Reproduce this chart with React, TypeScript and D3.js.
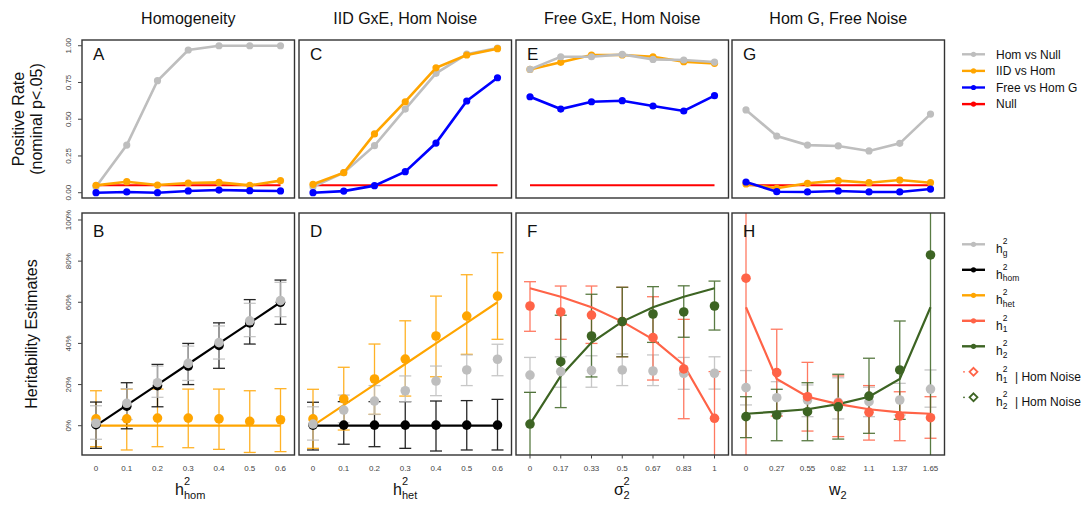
import React from "react";
import * as d3 from "d3";

// ---------- data ----------
const xHom = ["0", "0.1", "0.2", "0.3", "0.4", "0.5", "0.6"];
const xHet = ["0", "0.1", "0.2", "0.3", "0.4", "0.5", "0.6"];
const xSigma = ["0", "0.17", "0.33", "0.5", "0.67", "0.83", "1"];
const xW = ["0", "0.27", "0.55", "0.82", "1.1", "1.37", "1.65"];

const nullRate = 0.05;

// Positive rates (top row)
const homVsNullA = [0.04, 0.324, 0.762, 0.971, 1.0, 1.0, 1.0];
const iidVsHomA = [0.05, 0.075, 0.052, 0.066, 0.07, 0.05, 0.082];
const freeVsHomA = [0.0, 0.005, 0.0, 0.012, 0.018, 0.014, 0.012];

const homVsNullC = [0.04, 0.136, 0.32, 0.569, 0.812, 0.943, 0.984];
const iidVsHomC = [0.057, 0.136, 0.4, 0.619, 0.85, 0.937, 0.98];
const freeVsHomC = [0.0, 0.011, 0.048, 0.143, 0.338, 0.624, 0.782];

const homVsNullE = [0.839, 0.925, 0.925, 0.941, 0.907, 0.903, 0.889];
const iidVsHomE = [0.839, 0.887, 0.937, 0.937, 0.925, 0.891, 0.88];
const freeVsHomE = [0.653, 0.569, 0.619, 0.626, 0.59, 0.556, 0.66];

const homVsNullG = [0.563, 0.386, 0.324, 0.318, 0.284, 0.336, 0.535];
const iidVsHomG = [0.06, 0.03, 0.064, 0.082, 0.068, 0.086, 0.068];
const freeVsHomG = [0.073, 0.007, 0.005, 0.012, 0.005, 0.005, 0.025];

// Heritability estimates (bottom row): mean, lower, upper
const hgB = [0.012, 0.109, 0.209, 0.303, 0.404, 0.51, 0.608];
const hgBLo = [-0.066, 0.03, 0.138, 0.22, 0.324, 0.433, 0.53];
const hgBHi = [0.097, 0.18, 0.29, 0.387, 0.485, 0.595, 0.697];
const homB = [0.005, 0.095, 0.195, 0.29, 0.39, 0.5, 0.6];
const homBLo = [-0.11, -0.015, 0.092, 0.2, 0.279, 0.397, 0.493];
const homBHi = [0.115, 0.209, 0.298, 0.4, 0.5, 0.613, 0.708];
const hetB = [0.033, 0.033, 0.037, 0.037, 0.033, 0.021, 0.029];
const hetBLo = [-0.102, -0.118, -0.102, -0.107, -0.115, -0.13, -0.126];
const hetBHi = [0.17, 0.178, 0.178, 0.178, 0.178, 0.17, 0.18];
const trueHomB = [0, 0.1, 0.2, 0.3, 0.4, 0.5, 0.6];
const trueHetB = [0, 0, 0, 0, 0, 0, 0];

const hetD = [0.033, 0.13, 0.227, 0.324, 0.436, 0.533, 0.63];
const hetDLo = [-0.11, -0.021, 0.055, 0.144, 0.238, 0.347, 0.42];
const hetDHi = [0.177, 0.284, 0.397, 0.51, 0.63, 0.734, 0.841];
const hgD = [0.008, 0.076, 0.12, 0.17, 0.217, 0.271, 0.323];
const hgDLo = [-0.07, 0.015, 0.055, 0.117, 0.146, 0.195, 0.243];
const hgDHi = [0.092, 0.149, 0.195, 0.242, 0.29, 0.344, 0.396];
const homD = [0.003, 0.003, 0.003, 0.003, 0.003, 0.003, 0.003];
const homDLo = [-0.118, -0.09, -0.102, -0.11, -0.123, -0.118, -0.118];
const homDHi = [0.114, 0.117, 0.117, 0.117, 0.12, 0.122, 0.128];
const trueHetD = [0, 0.1, 0.2, 0.3, 0.4, 0.5, 0.6];
const trueHomD = [0, 0, 0, 0, 0, 0, 0];

const h1F = [0.582, 0.553, 0.538, 0.506, 0.428, 0.276, 0.036];
const h1FLo = [0.459, 0.42, 0.4, 0.335, 0.222, 0.034, -0.3];
const h1FHi = [0.7, 0.679, 0.679, 0.673, 0.627, 0.517, 0.263];
const h2F = [0.008, 0.311, 0.436, 0.506, 0.543, 0.553, 0.582];
const h2FLo = [-0.3, 0.088, 0.237, 0.335, 0.405, 0.43, 0.465];
const h2FHi = [0.162, 0.537, 0.639, 0.673, 0.676, 0.68, 0.703];
const hgF = [0.246, 0.263, 0.268, 0.271, 0.266, 0.255, 0.255];
const hgFLo = [0.162, 0.187, 0.187, 0.195, 0.195, 0.177, 0.178];
const hgFHi = [0.332, 0.335, 0.34, 0.349, 0.344, 0.332, 0.335];
const trueH1F = [0.668, 0.627, 0.576, 0.506, 0.42, 0.295, 0.036];
const trueH2F = [0.008, 0.242, 0.404, 0.506, 0.576, 0.627, 0.668];

const h1H = [0.717, 0.258, 0.141, 0.11, 0.065, 0.047, 0.039];
const h1HLo = [-0.5, 0.047, -0.026, -0.053, -0.07, -0.073, -0.061];
const h1HHi = [1.5, 0.469, 0.308, 0.242, 0.195, 0.165, 0.141];
const h2H = [0.044, 0.052, 0.068, 0.092, 0.144, 0.271, 0.83];
const h2HLo = [-0.058, -0.073, -0.073, -0.065, -0.037, 0.031, -0.5];
const h2HHi = [0.141, 0.177, 0.209, 0.25, 0.328, 0.509, 1.5];
const hgH = [0.185, 0.136, 0.125, 0.114, 0.117, 0.125, 0.178];
const hgHLo = [0.101, 0.06, 0.044, 0.033, 0.044, 0.052, 0.09];
const hgHHi = [0.268, 0.214, 0.198, 0.233, 0.187, 0.206, 0.271];
const trueH1H = [0.576, 0.227, 0.141, 0.105, 0.08, 0.065, 0.058];
const trueH2H = [0.058, 0.068, 0.08, 0.105, 0.141, 0.227, 0.576];

const topTicks = [0, 0.25, 0.5, 0.75, 1];
const botTicks = [0, 0.2, 0.4, 0.6, 0.8, 1];

const titles = ["Homogeneity", "IID GxE, Hom Noise", "Free GxE, Hom Noise", "Hom G, Free Noise"];

// ---------- styling / layout ----------
const FONT = "'Liberation Sans', Arial, Helvetica, sans-serif";
const C = {
  g: "#BEBEBE",
  hom: "#000000",
  het: "#FFA500",
  h1: "#FF6347",
  h2: "#3D6423",
  blue: "#0000FF",
  red: "#FF0000",
  frame: "#333333",
  tick: "#444444",
};

const W = 1086;
const H = 507;
const panelX = [82, 299, 516, 732];
const panelW = 212.5;
const TOP = { y0: 40, y1: 198 };
const BOT = { y0: 213, y1: 455 };

const yTop = d3.scaleLinear().domain([-0.036, 1.039]).range([TOP.y1, TOP.y0]);
const yBot = d3.scaleLinear().domain([-0.1424, 1.034]).range([BOT.y1, BOT.y0]);

const xScale = (x0: number, labels: string[]) =>
  d3.scalePoint<string>().domain(labels).range([x0 + 14, x0 + 198.5]);

type Series = { values: number[]; color: string };
type Est = { mean: number[]; lo: number[]; hi: number[]; color: string };

function TopPanel(props: {
  idx: number;
  labels: string[];
  series: Series[];
  letter: string;
  yAxis?: boolean;
}) {
  const { idx, labels, series, letter, yAxis } = props;
  const x0 = panelX[idx];
  const x = xScale(x0, labels);
  const line = d3
    .line<number>()
    .x((_, i) => x(labels[i]) as number)
    .y((d) => yTop(d));
  const nullLine = labels.map(() => nullRate);
  const clipId = `clip-top-${idx}`;
  return (
    <g>
      <clipPath id={clipId}>
        <rect x={x0} y={TOP.y0} width={panelW} height={TOP.y1 - TOP.y0} />
      </clipPath>
      <g clipPath={`url(#${clipId})`}>
        <path d={line(nullLine) || ""} fill="none" stroke={C.red} strokeWidth={2} />
        {series.map((s, si) => (
          <g key={si}>
            <path d={line(s.values) || ""} fill="none" stroke={s.color} strokeWidth={2.6} />
            {s.values.map((v, i) => (
              <circle key={i} cx={x(labels[i])} cy={yTop(v)} r={3.6} fill={s.color} />
            ))}
          </g>
        ))}
      </g>
      <rect x={x0} y={TOP.y0} width={panelW} height={TOP.y1 - TOP.y0} fill="none" stroke={C.frame} strokeWidth={1.4} />
      <text x={x0 + 11} y={60} fontFamily={FONT} fontSize={17} fill="#111">
        {letter}
      </text>
      <text x={x0 + panelW / 2} y={24} textAnchor="middle" fontFamily={FONT} fontSize={16} fill="#111">
        {titles[idx]}
      </text>
      {yAxis &&
        topTicks.map((t) => (
          <g key={t}>
            <line x1={x0 - 4} x2={x0} y1={yTop(t)} y2={yTop(t)} stroke={C.tick} strokeWidth={1} />
            <text
              transform={`translate(${x0 - 14},${yTop(t)}) rotate(-90)`}
              textAnchor="middle"
              dy="0.35em"
              fontFamily={FONT}
              fontSize={8}
              fill={C.tick}
            >
              {d3.format(".2f")(t)}
            </text>
          </g>
        ))}
    </g>
  );
}

function BottomPanel(props: {
  idx: number;
  labels: string[];
  truths: Series[];
  ests: Est[];
  letter: string;
  yAxis?: boolean;
  xTicks?: boolean;
}) {
  const { idx, labels, truths, ests, letter, yAxis, xTicks } = props;
  const x0 = panelX[idx];
  const x = xScale(x0, labels);
  const line = d3
    .line<number>()
    .x((_, i) => x(labels[i]) as number)
    .y((d) => yBot(d));
  const clipId = `clip-bot-${idx}`;
  const cap = 6;
  return (
    <g>
      <clipPath id={clipId}>
        <rect x={x0} y={BOT.y0} width={panelW} height={BOT.y1 - BOT.y0} />
      </clipPath>
      <g clipPath={`url(#${clipId})`}>
        {ests.map((e, ei) => (
          <g key={ei} stroke={e.color} strokeWidth={1.3} opacity={0.85}>
            {e.mean.map((_, i) => {
              const cx = x(labels[i]) as number;
              return (
                <g key={i}>
                  <line x1={cx} x2={cx} y1={yBot(e.lo[i])} y2={yBot(e.hi[i])} />
                  <line x1={cx - cap} x2={cx + cap} y1={yBot(e.lo[i])} y2={yBot(e.lo[i])} />
                  <line x1={cx - cap} x2={cx + cap} y1={yBot(e.hi[i])} y2={yBot(e.hi[i])} />
                </g>
              );
            })}
          </g>
        ))}
        {truths.map((t, ti) => (
          <path key={ti} d={line(t.values) || ""} fill="none" stroke={t.color} strokeWidth={2.2} />
        ))}
        {ests.map((e, ei) => (
          <g key={ei}>
            {e.mean.map((v, i) => (
              <circle key={i} cx={x(labels[i])} cy={yBot(v)} r={4.8} fill={e.color} />
            ))}
          </g>
        ))}
      </g>
      <rect x={x0} y={BOT.y0} width={panelW} height={BOT.y1 - BOT.y0} fill="none" stroke={C.frame} strokeWidth={1.4} />
      <text x={x0 + 11} y={236.5} fontFamily={FONT} fontSize={17} fill="#111">
        {letter}
      </text>
      {labels.map((l) => (
        <g key={l}>
          {xTicks && (
            <line x1={x(l)} x2={x(l)} y1={BOT.y1} y2={BOT.y1 + 3.5} stroke={C.tick} strokeWidth={1} />
          )}
          <text x={x(l)} y={471} textAnchor="middle" fontFamily={FONT} fontSize={8} fill={C.tick}>
            {l}
          </text>
        </g>
      ))}
      {yAxis &&
        botTicks.map((t) => (
          <g key={t}>
            <line x1={x0 - 4} x2={x0} y1={yBot(t)} y2={yBot(t)} stroke={C.tick} strokeWidth={1} />
            <text
              transform={`translate(${x0 - 14},${yBot(t)}) rotate(-90)`}
              textAnchor="middle"
              dy="0.35em"
              fontFamily={FONT}
              fontSize={8}
              fill={C.tick}
            >
              {d3.format(".0%")(t)}
            </text>
          </g>
        ))}
    </g>
  );
}

// Base symbol with stacked superscript/subscript (h^2_hom style)
function Scripted(props: {
  x: number;
  y: number;
  base: string;
  baseW: number;
  sup?: string;
  sub?: string;
  size: number;
  scriptSize: number;
  supDy: number;
  subDy: number;
  after?: string;
  afterX?: number;
}) {
  const { x, y, base, baseW, sup, sub, size, scriptSize, supDy, subDy, after, afterX } = props;
  return (
    <g fontFamily={FONT} fill="#111">
      <text x={x} y={y} fontSize={size}>
        {base}
      </text>
      {sup && (
        <text x={x + baseW} y={y + supDy} fontSize={scriptSize}>
          {sup}
        </text>
      )}
      {sub && (
        <text x={x + baseW} y={y + subDy} fontSize={scriptSize}>
          {sub}
        </text>
      )}
      {after && (
        <text x={afterX} y={y} fontSize={size}>
          {after}
        </text>
      )}
    </g>
  );
}

const topLegend = [
  { label: "Hom vs Null", color: C.g },
  { label: "IID vs Hom", color: C.het },
  { label: "Free vs Hom G", color: C.blue },
  { label: "Null", color: C.red },
];

const botLegend = [
  { sub: "g", color: C.g, open: false, note: "" },
  { sub: "hom", color: C.hom, open: false, note: "" },
  { sub: "het", color: C.het, open: false, note: "" },
  { sub: "1", color: C.h1, open: false, note: "" },
  { sub: "2", color: C.h2, open: false, note: "" },
  { sub: "1", color: C.h1, open: true, note: "| Hom Noise" },
  { sub: "2", color: C.h2, open: true, note: "| Hom Noise" },
];

export default function App() {
  return (
    <svg width={W} height={H} style={{ display: "block", position: "absolute", left: 0, top: 0, background: "#fff" }}>
      <rect x={0} y={0} width={W} height={H} fill="#fff" />

      {/* Row titles */}
      <g fontFamily={FONT} fontSize={16} fill="#111" textAnchor="middle">
        <text transform="translate(18.5,119) rotate(-90)" dy="0.35em">Positive Rate</text>
        <text transform="translate(36.5,119) rotate(-90)" dy="0.35em">(nominal p&lt;.05)</text>
        <text transform="translate(31,334) rotate(-90)" dy="0.35em">Heritability Estimates</text>
      </g>

      <TopPanel
        idx={0}
        labels={xHom}
        letter="A"
        yAxis
        series={[
          { values: homVsNullA, color: C.g },
          { values: iidVsHomA, color: C.het },
          { values: freeVsHomA, color: C.blue },
        ]}
      />
      <TopPanel
        idx={1}
        labels={xHet}
        letter="C"
        series={[
          { values: homVsNullC, color: C.g },
          { values: iidVsHomC, color: C.het },
          { values: freeVsHomC, color: C.blue },
        ]}
      />
      <TopPanel
        idx={2}
        labels={xSigma}
        letter="E"
        series={[
          { values: iidVsHomE, color: C.het },
          { values: homVsNullE, color: C.g },
          { values: freeVsHomE, color: C.blue },
        ]}
      />
      <TopPanel
        idx={3}
        labels={xW}
        letter="G"
        series={[
          { values: homVsNullG, color: C.g },
          { values: iidVsHomG, color: C.het },
          { values: freeVsHomG, color: C.blue },
        ]}
      />

      <BottomPanel
        idx={0}
        labels={xHom}
        letter="B"
        yAxis
        truths={[
          { values: trueHetB, color: C.het },
          { values: trueHomB, color: C.hom },
        ]}
        ests={[
          { mean: hetB, lo: hetBLo, hi: hetBHi, color: C.het },
          { mean: homB, lo: homBLo, hi: homBHi, color: C.hom },
          { mean: hgB, lo: hgBLo, hi: hgBHi, color: C.g },
        ]}
      />
      <BottomPanel
        idx={1}
        labels={xHet}
        letter="D"
        truths={[
          { values: trueHomD, color: C.hom },
          { values: trueHetD, color: C.het },
        ]}
        ests={[
          { mean: homD, lo: homDLo, hi: homDHi, color: C.hom },
          { mean: hetD, lo: hetDLo, hi: hetDHi, color: C.het },
          { mean: hgD, lo: hgDLo, hi: hgDHi, color: C.g },
        ]}
      />
      <BottomPanel
        idx={2}
        labels={xSigma}
        letter="F"
        xTicks
        truths={[
          { values: trueH1F, color: C.h1 },
          { values: trueH2F, color: C.h2 },
        ]}
        ests={[
          { mean: hgF, lo: hgFLo, hi: hgFHi, color: C.g },
          { mean: h1F, lo: h1FLo, hi: h1FHi, color: C.h1 },
          { mean: h2F, lo: h2FLo, hi: h2FHi, color: C.h2 },
        ]}
      />
      <BottomPanel
        idx={3}
        labels={xW}
        letter="H"
        truths={[
          { values: trueH1H, color: C.h1 },
          { values: trueH2H, color: C.h2 },
        ]}
        ests={[
          { mean: hgH, lo: hgHLo, hi: hgHHi, color: C.g },
          { mean: h1H, lo: h1HLo, hi: h1HHi, color: C.h1 },
          { mean: h2H, lo: h2HLo, hi: h2HHi, color: C.h2 },
        ]}
      />

      {/* x-axis titles */}
      <Scripted x={175} y={495} base="h" baseW={9} sup="2" sub="hom" size={16} scriptSize={11} supDy={-10} subDy={3.5} />
      <Scripted x={393} y={495} base="h" baseW={9} sup="2" sub="het" size={16} scriptSize={11} supDy={-10} subDy={3.5} />
      <Scripted x={614} y={495} base="σ" baseW={9.5} sup="2" sub="2" size={16} scriptSize={11} supDy={-10} subDy={3.5} />
      <Scripted x={829} y={495} base="w" baseW={11.5} sub="2" size={16} scriptSize={11} supDy={-10} subDy={4} />

      {/* legend: positive rates */}
      {topLegend.map((d, i) => {
        const y = 54.3 + i * 16.6;
        return (
          <g key={d.label}>
            <line x1={962} x2={985} y1={y} y2={y} stroke={d.color} strokeWidth={2.4} />
            <circle cx={973.5} cy={y} r={2.6} fill={d.color} />
            <text x={996} y={y} dy="0.35em" fontFamily={FONT} fontSize={12} fill="#111">
              {d.label}
            </text>
          </g>
        );
      })}

      {/* legend: heritability */}
      {botLegend.map((d, i) => {
        const y = 244.3 + i * 25.5;
        return (
          <g key={i}>
            {d.open ? (
              <g>
                <circle cx={964} cy={y} r={0.9} fill={d.color} />
                <path
                  d={d3.symbol(d3.symbolDiamond2, 40)() || ""}
                  transform={`translate(${973.5},${y})`}
                  fill="none"
                  stroke={d.color}
                  strokeWidth={1.8}
                />
              </g>
            ) : (
              <g>
                <line x1={962} x2={985} y1={y} y2={y} stroke={d.color} strokeWidth={2.4} />
                <circle cx={973.5} cy={y} r={2.6} fill={d.color} />
              </g>
            )}
            <Scripted
              x={996}
              y={y + 9}
              base="h"
              baseW={6.8}
              sup="2"
              sub={d.sub}
              size={12}
              scriptSize={8.5}
              supDy={-9}
              subDy={2.5}
              after={d.note || undefined}
              afterX={1015}
            />
          </g>
        );
      })}
    </svg>
  );
}
